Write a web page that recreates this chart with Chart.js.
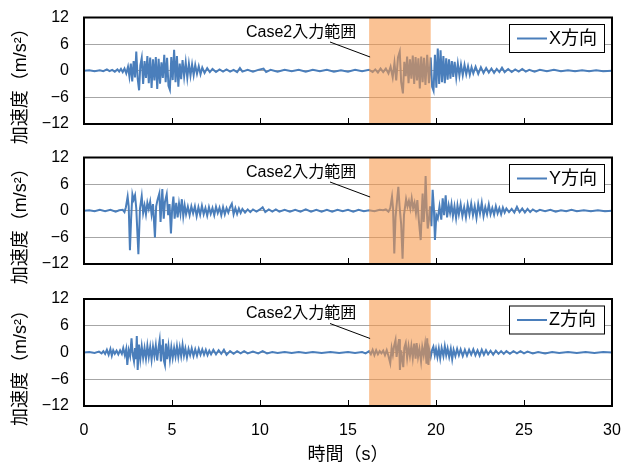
<!DOCTYPE html>
<html lang="ja">
<head>
<meta charset="UTF-8">
<title>加速度波形</title>
<script src="https://cdn.jsdelivr.net/npm/chart.js"></script>
<style>
  body { margin: 0; background: #fff; }
  .wrap { position: relative; width: 622px; height: 463px; overflow: hidden; }
  .wrap canvas { position: absolute; left: 0; }
</style>
</head>
<body>
<div class="wrap">
  <canvas id="cx"></canvas>
  <canvas id="cy"></canvas>
  <canvas id="cz"></canvas>
</div>
<script>
// time (s), acceleration (m/s2)
const waveX = [[0,0],[0.3,0.1],[0.6,-0.1],[0.9,0.1],[1.1,-0.1],[1.3,0.3],[1.45,-0.1],[1.6,0.2],[1.75,-0.2],[1.9,0.3],[2.0,-0.2],[2.1,0.4],[2.2,-0.3],[2.3,0.5],[2.4,-0.6],[2.5,0.9],[2.58,-1.3],[2.66,1.6],[2.74,-2.4],[2.82,2.2],[2.9,-1.5],[2.97,4.3],[3.05,-1.8],[3.13,-4.4],[3.2,1.2],[3.28,2.9],[3.36,-3.0],[3.44,2.2],[3.52,-1.6],[3.6,3.3],[3.68,-2.8],[3.76,3.0],[3.84,-3.9],[3.92,2.6],[4.0,-2.2],[4.08,3.1],[4.16,-4.1],[4.24,2.7],[4.32,-2.9],[4.4,1.9],[4.48,-1.6],[4.56,3.6],[4.64,-2.6],[4.72,2.9],[4.8,-3.4],[4.88,-4.3],[4.96,3.1],[5.04,-2.1],[5.12,4.7],[5.2,-2.6],[5.28,3.3],[5.36,-3.6],[5.44,1.6],[5.52,-1.9],[5.6,2.4],[5.69,-1.3],[5.78,1.9],[5.87,-1.6],[5.96,1.6],[6.05,-1.1],[6.14,1.4],[6.23,-1.0],[6.32,1.3],[6.42,-0.7],[6.52,1.0],[6.62,-0.8],[6.72,0.7],[6.85,-0.5],[7.0,0.6],[7.15,-0.3],[7.3,0.4],[7.5,-0.3],[7.7,0.3],[7.9,-0.2],[8.1,0.3],[8.3,-0.2],[8.5,0.2],[8.7,-0.3],[8.86,0.6],[9.0,-0.2],[9.3,0.2],[9.6,-0.2],[9.9,0.2],[10.2,0.5],[10.35,-0.3],[10.6,0.2],[11.0,-0.2],[11.4,0.2],[11.8,-0.1],[12.2,0.2],[12.6,-0.2],[13.0,0.2],[13.4,-0.1],[13.8,0.2],[14.2,-0.2],[14.6,0.1],[15.0,-0.2],[15.4,0.2],[15.8,-0.1],[16.2,0.2],[16.4,-0.3],[16.55,0.3],[16.7,-0.4],[16.85,0.5],[17.0,-0.3],[17.15,0.5],[17.3,-0.6],[17.42,0.9],[17.54,-1.5],[17.64,1.8],[17.74,-2.2],[17.84,3.0],[17.94,4.3],[18.02,-2.5],[18.12,-5.1],[18.2,2.0],[18.28,-1.2],[18.36,3.2],[18.44,-2.8],[18.52,2.6],[18.6,-1.8],[18.68,3.4],[18.76,-3.0],[18.84,3.1],[18.92,-2.2],[19.0,2.8],[19.08,-4.0],[19.16,3.2],[19.24,-2.6],[19.32,2.9],[19.4,-3.2],[19.5,3.6],[19.6,-2.8],[19.7,3.0],[19.78,-3.6],[19.86,-4.5],[19.94,3.6],[20.02,-3.8],[20.1,5.0],[20.18,-3.0],[20.26,4.6],[20.34,-2.6],[20.42,3.3],[20.5,-2.8],[20.58,2.8],[20.66,-2.0],[20.74,2.6],[20.82,-1.8],[20.9,2.2],[20.98,-1.4],[21.06,2.0],[21.15,-1.5],[21.24,1.6],[21.33,-1.1],[21.42,1.4],[21.52,-1.0],[21.62,1.3],[21.72,-0.8],[21.82,1.0],[21.92,-0.9],[22.02,0.8],[22.12,-0.6],[22.25,0.9],[22.4,-0.7],[22.55,0.8],[22.7,-0.5],[22.85,0.6],[23.0,-0.4],[23.15,0.5],[23.3,-0.5],[23.45,0.4],[23.6,-0.3],[23.75,0.7],[23.9,-0.3],[24.1,0.4],[24.3,-0.3],[24.5,0.3],[24.7,-0.2],[24.9,0.4],[25.1,-0.2],[25.3,0.2],[25.6,-0.2],[25.9,0.2],[26.3,-0.1],[26.7,0.2],[27.1,-0.1],[27.5,0.1],[27.9,-0.1],[28.3,0.1],[28.7,-0.1],[29.1,0.1],[29.5,-0.1],[30,0]];

const waveY = [[0,0],[0.3,0.1],[0.6,-0.1],[0.9,0.2],[1.2,-0.1],[1.5,0.2],[1.8,-0.2],[2.0,0.1],[2.2,0.2],[2.3,-0.3],[2.38,0.8],[2.48,3.2],[2.54,1.0],[2.61,-8.9],[2.68,-1.5],[2.75,3.7],[2.82,2.5],[2.9,3.5],[2.97,0.5],[3.09,-9.8],[3.18,0.5],[3.28,3.3],[3.36,-0.5],[3.44,1.2],[3.52,-0.8],[3.6,1.8],[3.68,0.4],[3.76,2.0],[3.84,-0.8],[3.92,1.5],[4.03,-6.0],[4.1,1.0],[4.18,2.5],[4.28,3.9],[4.35,-2.5],[4.45,4.9],[4.53,-1.8],[4.6,2.0],[4.7,3.7],[4.78,-1.0],[4.86,1.5],[4.94,-5.1],[5.01,0.5],[5.08,3.2],[5.15,-1.8],[5.24,1.8],[5.32,-1.5],[5.4,1.6],[5.48,-0.6],[5.56,2.6],[5.64,-1.2],[5.72,1.2],[5.8,-0.8],[5.9,0.9],[6.0,-1.0],[6.1,1.0],[6.2,-0.6],[6.3,1.0],[6.4,-1.2],[6.5,0.8],[6.6,-0.9],[6.7,1.1],[6.8,-0.8],[6.9,0.6],[7.0,-1.1],[7.1,0.8],[7.2,-0.7],[7.3,0.6],[7.4,-1.0],[7.5,0.9],[7.6,-0.5],[7.7,0.7],[7.8,-1.0],[7.9,0.8],[8.0,-0.8],[8.1,0.6],[8.2,-0.4],[8.3,0.8],[8.4,1.6],[8.5,-0.8],[8.6,0.6],[8.7,-0.7],[8.8,0.5],[8.9,-0.5],[9.0,0.4],[9.15,-0.4],[9.3,0.3],[9.45,-0.3],[9.6,0.3],[9.8,-0.2],[10.0,0.3],[10.15,0.8],[10.3,-0.3],[10.5,0.3],[10.7,-0.2],[10.9,0.3],[11.1,-0.2],[11.4,0.2],[11.7,-0.2],[12.0,0.2],[12.3,-0.2],[12.6,0.3],[12.9,-0.2],[13.2,0.2],[13.5,-0.2],[13.8,0.2],[14.1,-0.2],[14.4,0.2],[14.7,-0.1],[15.0,0.2],[15.3,-0.2],[15.6,0.2],[15.9,-0.1],[16.2,0.1],[16.5,-0.1],[16.8,0.2],[17.0,0.1],[17.15,0.3],[17.3,-0.2],[17.4,0.6],[17.5,3.2],[17.56,0.5],[17.63,-9.6],[17.7,-1.5],[17.78,2.0],[17.86,5.4],[17.93,1.0],[18.02,-3.0],[18.1,-10.8],[18.18,-1.0],[18.3,2.6],[18.38,1.0],[18.46,2.2],[18.54,0.5],[18.62,2.8],[18.7,0.6],[18.78,1.8],[18.86,-0.5],[18.94,2.4],[19.02,-2.0],[19.13,-6.6],[19.2,0.5],[19.24,3.9],[19.3,-2.5],[19.36,1.0],[19.41,7.8],[19.47,0.5],[19.53,-4.0],[19.6,-2.0],[19.66,1.0],[19.74,-3.5],[19.81,4.7],[19.88,0.5],[19.94,-6.6],[20.02,-1.0],[20.1,-1.8],[20.2,1.0],[20.3,-2.0],[20.38,2.8],[20.46,-1.0],[20.55,3.5],[20.63,-1.5],[20.72,1.2],[20.8,-0.5],[20.88,1.5],[20.96,-1.2],[21.05,1.0],[21.14,-1.6],[21.22,1.2],[21.3,-0.8],[21.4,1.5],[21.5,-1.2],[21.6,0.8],[21.7,-1.5],[21.8,1.4],[21.9,-0.8],[22.0,1.6],[22.1,-1.0],[22.2,1.0],[22.3,-1.6],[22.4,1.5],[22.5,-0.6],[22.6,1.8],[22.7,-1.2],[22.8,0.8],[22.9,-0.8],[23.0,1.4],[23.1,-0.8],[23.2,0.6],[23.3,-0.9],[23.4,1.0],[23.5,-0.6],[23.6,0.6],[23.7,-0.8],[23.8,0.7],[23.9,-0.4],[24.0,0.5],[24.15,-0.3],[24.3,0.4],[24.45,-0.4],[24.6,0.9],[24.75,-0.3],[24.9,0.5],[25.05,-0.4],[25.2,0.4],[25.35,-0.3],[25.5,0.3],[25.7,-0.2],[25.9,0.2],[26.2,-0.1],[26.5,0.2],[26.8,-0.2],[27.1,0.1],[27.4,-0.1],[27.7,0.2],[28.0,-0.1],[28.4,0.1],[28.8,-0.1],[29.2,0.1],[29.6,-0.1],[30,0]];

const waveZ = [[0,0],[0.3,0.1],[0.6,-0.1],[0.85,0.2],[1.0,-0.2],[1.1,0.3],[1.2,-0.3],[1.3,0.6],[1.4,-0.5],[1.5,0.8],[1.58,-0.7],[1.66,0.5],[1.75,-0.3],[1.85,0.4],[1.95,-0.4],[2.05,0.5],[2.15,-0.3],[2.23,1.0],[2.32,-0.6],[2.4,0.8],[2.46,-2.8],[2.54,0.5],[2.62,-0.8],[2.7,3.2],[2.77,-0.5],[2.84,-2.0],[2.9,1.0],[2.95,-1.5],[3.0,3.7],[3.05,-3.9],[3.12,1.8],[3.2,-1.5],[3.28,1.4],[3.36,-1.2],[3.44,1.0],[3.52,-1.4],[3.6,1.5],[3.68,-1.0],[3.76,1.2],[3.84,-1.6],[3.92,1.3],[4.0,-0.8],[4.08,1.6],[4.16,-1.8],[4.24,1.2],[4.3,2.8],[4.37,-2.0],[4.44,1.5],[4.48,3.0],[4.54,-1.8],[4.6,-2.8],[4.66,2.0],[4.72,-1.5],[4.8,1.4],[4.88,-1.6],[4.96,1.2],[5.04,-1.2],[5.12,1.0],[5.2,-0.9],[5.28,1.4],[5.36,-1.0],[5.44,1.2],[5.52,-0.8],[5.6,1.7],[5.68,-0.7],[5.76,0.9],[5.85,-1.1],[5.94,0.8],[6.03,-0.6],[6.12,0.9],[6.22,-0.8],[6.32,0.7],[6.42,-0.7],[6.52,0.8],[6.62,-0.5],[6.72,0.7],[6.82,-0.5],[6.92,0.6],[7.02,-0.6],[7.12,0.4],[7.22,-0.4],[7.35,0.6],[7.5,-0.4],[7.65,0.5],[7.8,-0.3],[7.95,0.6],[8.1,-0.5],[8.3,0.3],[8.5,-0.3],[8.7,0.3],[8.9,-0.2],[9.1,0.3],[9.3,-0.2],[9.6,0.2],[9.9,-0.2],[10.15,0.3],[10.4,-0.2],[10.7,0.1],[11.0,-0.1],[11.4,0.1],[11.8,-0.1],[12.2,0.1],[12.6,-0.1],[13.0,0.1],[13.5,-0.1],[14.0,0.1],[14.5,-0.1],[15.0,0.1],[15.4,-0.1],[15.8,0.1],[16.0,-0.2],[16.2,0.3],[16.3,-0.4],[16.4,0.6],[16.5,-0.6],[16.6,0.5],[16.7,-0.4],[16.8,0.3],[16.9,-0.2],[17.0,0.4],[17.1,-0.6],[17.2,0.5],[17.3,-0.8],[17.4,-2.4],[17.48,1.0],[17.55,-0.5],[17.62,1.5],[17.7,2.8],[17.76,-1.0],[17.83,1.2],[17.9,3.0],[17.95,-3.9],[18.02,0.5],[18.08,-1.5],[18.14,-3.3],[18.2,1.0],[18.28,2.1],[18.36,-1.2],[18.44,1.4],[18.52,-0.8],[18.6,1.5],[18.68,-1.2],[18.76,2.0],[18.84,-1.4],[18.9,2.1],[18.98,-1.0],[19.06,0.8],[19.15,-2.0],[19.22,1.2],[19.3,-0.6],[19.38,1.8],[19.46,-2.5],[19.5,3.2],[19.57,-2.8],[19.62,0.5],[19.7,-1.0],[19.78,0.6],[19.85,1.3],[19.93,-0.6],[20.0,0.8],[20.08,-1.0],[20.16,0.9],[20.24,-1.3],[20.32,1.0],[20.42,-0.8],[20.5,1.4],[20.58,-0.6],[20.66,0.9],[20.75,-1.0],[20.84,0.8],[20.92,-1.5],[21.0,0.6],[21.1,-0.8],[21.2,0.8],[21.3,-0.6],[21.4,0.7],[21.52,-0.8],[21.64,0.6],[21.76,-0.7],[21.88,0.6],[22.0,-0.5],[22.12,0.7],[22.24,-0.6],[22.36,0.5],[22.48,-0.7],[22.6,0.6],[22.72,-0.5],[22.84,0.5],[22.96,-0.4],[23.1,0.4],[23.25,-0.5],[23.4,0.4],[23.55,-0.3],[23.7,0.3],[23.85,-0.3],[24.0,0.3],[24.2,-0.3],[24.4,0.3],[24.6,-0.2],[24.8,0.3],[25.0,-0.2],[25.2,0.2],[25.5,-0.2],[25.8,0.1],[26.2,-0.2],[26.6,0.1],[27.0,-0.1],[27.5,0.1],[28.0,-0.1],[28.5,0.1],[29.0,-0.1],[29.5,0.1],[30,0]];

const seriesLabels = ['X方向', 'Y方向', 'Z方向'];
const bandRange = [16.2, 19.7];      // Case2 input range (s)
const bandText = 'Case2入力範囲';
const xTickValues = [0, 5, 10, 15, 20, 25, 30];
const yTickValues = [-12, -6, 0, 6, 12];
const yTitle = '加速度（m/s²）';
const xTitle = '時間（s）';

const blue = '#4A7EBB';
const numFont = '"Liberation Sans", Arial, "Noto Sans CJK JP", sans-serif';
const jpFont = '"Liberation Sans", "Noto Sans CJK JP", sans-serif';

// every canvas sticks out of its panel by this much, so paddings stay positive
const EXTRA_TOP = 20, EXTRA_W = 40, EXTRA_BOTTOM = 12;

// band, frame, inner ticks, legend box, note and axis titles
const overlay = {
  id: 'overlay',
  afterDatasetsDraw(chart) {
    const { ctx, chartArea: a, scales: { x } } = chart;
    const x0 = x.getPixelForValue(bandRange[0]);
    const x1 = x.getPixelForValue(bandRange[1]);
    ctx.save();
    ctx.fillStyle = 'rgba(247,150,70,0.58)';
    ctx.fillRect(x0, a.top, x1 - x0, a.bottom - a.top);
    ctx.restore();
  },
  afterDraw(chart, args, opts) {
    const { ctx, chartArea: a, scales: { x } } = chart;
    ctx.save();
    // inner tick marks on the time axis
    ctx.strokeStyle = '#000';
    ctx.lineWidth = 1;
    xTickValues.slice(1, -1).forEach(v => {
      const px = Math.round(x.getPixelForValue(v)) + 0.5;
      ctx.beginPath();
      ctx.moveTo(px, a.bottom);
      ctx.lineTo(px, a.bottom - 6);
      ctx.stroke();
    });
    // frame
    ctx.lineWidth = 2;
    ctx.strokeRect(a.left, a.top, a.right - a.left, a.bottom - a.top);

    // note + leader line
    ctx.fillStyle = '#000';
    ctx.font = '16px ' + jpFont;
    ctx.textAlign = 'left';
    ctx.textBaseline = 'middle';
    ctx.fillText(bandText, 246, a.top + 15);
    ctx.lineWidth = 1;
    ctx.beginPath();
    ctx.moveTo(330, a.top + 24.5);
    ctx.lineTo(x.getPixelForValue(bandRange[0]) + 1, a.top + 39.5);
    ctx.stroke();

    // legend box
    const lx = 509, ly = a.top + 6.5, lw = 95, lh = 28;
    ctx.fillStyle = '#fff';
    ctx.fillRect(lx, ly, lw, lh);
    ctx.strokeStyle = '#000';
    ctx.strokeRect(lx + 0.5, ly + 0.5, lw, lh);
    ctx.strokeStyle = blue;
    ctx.lineWidth = 2;
    ctx.beginPath();
    ctx.moveTo(517, ly + 14.5);
    ctx.lineTo(547, ly + 14.5);
    ctx.stroke();
    ctx.fillStyle = '#000';
    ctx.font = '18px ' + jpFont;
    ctx.fillText(opts.label, 549, ly + 15);

    // y title
    ctx.save();
    ctx.translate(21, (a.top + a.bottom) / 2 + 11);
    ctx.rotate(-Math.PI / 2);
    ctx.textAlign = 'center';
    ctx.font = '18px ' + jpFont;
    ctx.fillText(yTitle, 0, 0);
    ctx.restore();

    // x title on the bottom panel only
    if (opts.bottom) {
      ctx.textAlign = 'center';
      ctx.font = '18px ' + jpFont;
      ctx.fillText(xTitle, (a.left + a.right) / 2, a.bottom + 49);
    }
    ctx.restore();
  }
};

// panelTop/panelH: panel box on the page; area: wanted plot area inside the panel
function makeChart(id, wave, label, panelTop, panelH, area, bottom) {
  const canvas = document.getElementById(id);
  canvas.width = 622 + EXTRA_W;
  canvas.height = panelH + EXTRA_TOP + EXTRA_BOTTOM;
  canvas.style.top = (panelTop - EXTRA_TOP) + 'px';

  const target = {
    left: area.left,
    right: area.right,
    top: area.top + EXTRA_TOP,
    bottom: area.bottom + EXTRA_TOP
  };
  const dims = {
    padTop: target.top,
    padRight: canvas.width - target.right,
    xHeight: canvas.height - target.bottom,
    yWidth: target.left
  };

  const chart = new Chart(canvas, {
    type: 'line',
    data: {
      datasets: [{
        data: wave.map(p => ({ x: p[0], y: p[1] })),
        borderColor: blue,
        borderWidth: 2,
        pointRadius: 0,
        tension: 0,
        fill: false
      }]
    },
    options: {
      responsive: false,
      animation: false,
      events: [],
      layout: { padding: { top: dims.padTop, right: dims.padRight, left: 0, bottom: 0 } },
      plugins: {
        legend: { display: false },
        tooltip: { enabled: false },
        overlay: { label: label, bottom: bottom }
      },
      scales: {
        x: {
          type: 'linear',
          min: 0,
          max: 30,
          afterBuildTicks: s => { s.ticks = xTickValues.map(v => ({ value: v })); },
          ticks: { display: bottom, padding: 6.5, maxRotation: 0, color: '#000', font: { family: numFont, size: 16 } },
          grid: { display: false },
          border: { display: false },
          afterFit: s => { s.height = dims.xHeight; }
        },
        y: {
          min: -12,
          max: 12,
          afterBuildTicks: s => { s.ticks = yTickValues.map(v => ({ value: v })); },
          ticks: {
            padding: 15,
            color: '#000',
            font: { family: numFont, size: 16 },
            callback: v => String(v).replace('-', '−')
          },
          grid: { color: '#a6a6a6', lineWidth: 1, drawTicks: false },
          border: { display: false },
          afterFit: s => { s.width = dims.yWidth; }
        }
      }
    },
    plugins: [overlay]
  });

  // nudge paddings until the plot area sits where it should
  for (let i = 0; i < 5; i++) {
    const a = chart.chartArea;
    const dt = target.top - a.top, db = a.bottom - target.bottom;
    const dl = target.left - a.left, dr = a.right - target.right;
    if (Math.abs(dt) + Math.abs(db) + Math.abs(dl) + Math.abs(dr) < 0.2) break;
    dims.padTop += dt;
    dims.padRight += dr;
    dims.xHeight += db;
    dims.yWidth += dl;
    chart.options.layout.padding = { top: dims.padTop, right: dims.padRight, left: 0, bottom: 0 };
    chart.update();
  }
  return chart;
}

makeChart('cx', waveX, seriesLabels[0], 0, 140, { left: 84, right: 612, top: 17.5, bottom: 124 }, false);
makeChart('cy', waveY, seriesLabels[1], 140, 140, { left: 84, right: 612, top: 17.5, bottom: 124 }, false);
makeChart('cz', waveZ, seriesLabels[2], 280, 183, { left: 84, right: 612, top: 19, bottom: 126 }, true);
</script>
</body>
</html>
